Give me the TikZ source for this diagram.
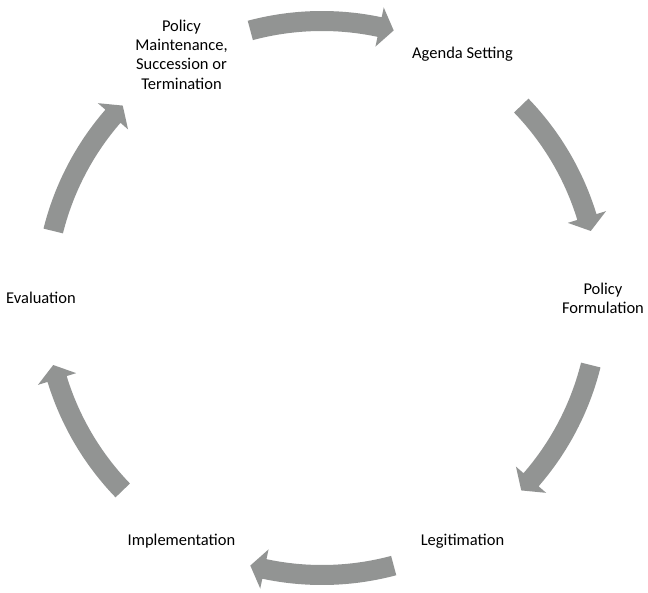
\documentclass[tikz,border=0pt]{standalone}
\usepackage{fontspec}
\setmainfont{Carlito}
\usetikzlibrary{calc}
\definecolor{arrowgray}{HTML}{929493}

\begin{document}
\begin{tikzpicture}[x=1pt, y=1pt,
        stage/.style = {align=center, inner sep=0pt, font=\fontsize{16.5}{19.3}\selectfont},
        cyclearrow/.style = {fill=arrowgray, draw=none}]

    \useasboundingbox (-322,-294) rectangle (326,298);
    \coordinate (c) at (0,0);

    % the six stages, one every 60 degrees round the centre
    \node[stage] (agenda)         at ($(c)+(60:281)$)  {Agenda Setting};
    \node[stage] (formulation)    at ($(c)+(0:281)$)   {Policy\\Formulation};
    \node[stage] (legitimation)   at ($(c)+(-60:281)$) {Legitimation};
    \node[stage] (implementation) at ($(c)+(-120:281)$) {Implementation};
    \node[stage] (evaluation)     at ($(c)+(180:281)$) {Evaluation};
    \node[stage] (maintenance)    at ($(c)+(120:281)$) {Policy\\Maintenance,\\Succession or\\Termination};

    % thick curved arrows between the stages, running clockwise
    \foreach \mid in {90,29,-29,-90,-151,151}
        \fill[cyclearrow] ($(c)+(\mid+15:287)$)
            arc[start angle=\mid+15, end angle=\mid-12, radius=287]
            -- ($(c)+(\mid-12:297)$) -- ($(c)+(\mid-15:277)$) -- ($(c)+(\mid-12:257)$)
            -- ($(c)+(\mid-12:267)$)
            arc[start angle=\mid-12, end angle=\mid+15, radius=267] -- cycle;

\end{tikzpicture}
\end{document}
